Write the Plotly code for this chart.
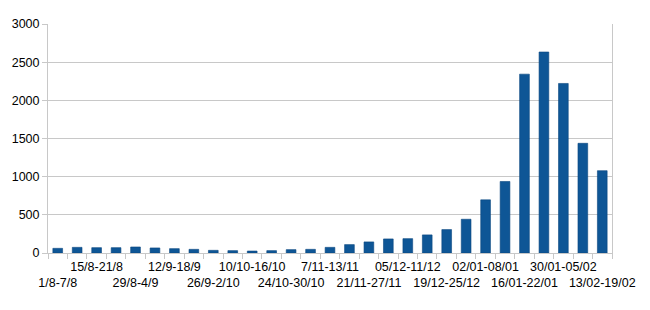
import plotly.graph_objects as go

weeks = ["1/8-7/8", "8/8-14/8", "15/8-21/8", "22/8-28/8", "29/8-4/9", "5/9-11/9",
         "12/9-18/9", "19/9-25/9", "26/9-2/10", "3/10-9/10", "10/10-16/10", "17/10-23/10",
         "24/10-30/10", "31/10-6/11", "7/11-13/11", "14/11-20/11", "21/11-27/11",
         "28/11-04/12", "05/12-11/12", "12/12-18/12", "19/12-25/12", "26/12-01/01",
         "02/01-08/01", "09/01-15/01", "16/01-22/01", "23/01-29/01", "30/01-05/02",
         "06/02-12/02", "13/02-19/02"]
values = [61, 74, 70, 70, 79, 66, 57, 48, 35, 31, 26, 31, 44, 48, 74, 110, 145, 184,
          188, 237, 307, 442, 697, 937, 2343, 2633, 2221, 1437, 1078]
y_ticks = [0, 500, 1000, 1500, 2000, 2500, 3000]

tick_text = []
for i, w in enumerate(weeks):
    if i % 4 == 0:
        tick_text.append("<br>" + w)
    elif i % 4 == 2:
        tick_text.append(w)
    else:
        tick_text.append("")

fig = go.Figure(go.Bar(x=weeks, y=values, marker=dict(color="#0e5696",
                line=dict(color="#0a4680", width=0.6))))

grid = "#c8c8c8"
fig.update_layout(
    width=650, height=310,
    margin=dict(l=48, r=38, t=24, b=57),
    paper_bgcolor="white", plot_bgcolor="white",
    bargap=0.5, showlegend=False,
    font=dict(family="Liberation Sans, Arial, sans-serif", size=12.5, color="#000000"),
)
fig.update_xaxes(
    type="category", tickmode="array", tickvals=weeks, ticktext=tick_text,
    tickson="boundaries", ticks="outside", ticklen=5, tickcolor=grid,
    showline=True, linecolor=grid, showgrid=False, tickangle=0,
    ticklabelstandoff=2,
    range=[-0.5, len(weeks) - 0.5],
)
fig.update_yaxes(
    range=[0, 3000], tickvals=y_ticks, ticks="outside", ticklen=5, tickcolor=grid,
    showline=True, mirror=True, linecolor=grid, gridcolor=grid, zeroline=False,
)
fig.write_html("out.html")
